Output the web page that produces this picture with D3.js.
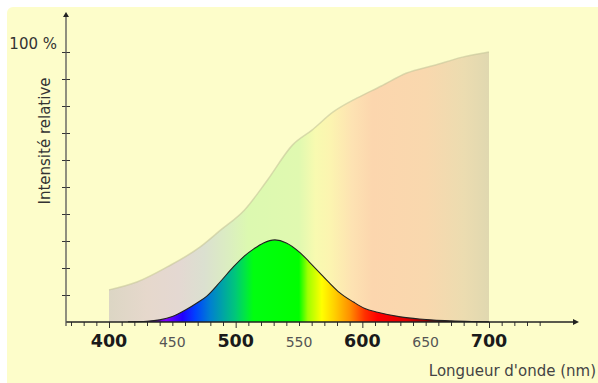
<!DOCTYPE html>
<html>
<head>
<meta charset="utf-8">
<script src="https://cdn.jsdelivr.net/npm/d3@7"></script>
<style>
  body { margin: 0; background: #fff; }
  text { font-family: "DejaVu Sans", sans-serif; }
</style>
</head>
<body>
<svg id="chart" width="598" height="383"></svg>
<script>
// envelope (pale) curve, wavelength nm -> relative %
const envWl  = [400, 422, 446, 472, 488, 507, 525, 545, 560, 577, 596, 615, 635, 657, 679, 700];
const envPct = [11.9, 14.8, 20.4, 27.8, 34, 41.5, 52.5, 65.6, 71, 77.8, 83, 87.4, 92.2, 95.1, 98.1, 100];

// coloured spectral curve
const specWl  = [415, 430, 440, 450, 461, 470, 477, 488, 498, 507, 514, 522, 531, 540, 551, 558, 566, 574, 582, 593, 602, 612, 630, 645, 656, 670, 690, 700];
const specPct = [0.1, 0.3, 0.8, 2.0, 4.6, 7.2, 9.5, 15, 20.3, 24.5, 27, 29.3, 30.4, 29.3, 25.6, 22.3, 18.4, 14.5, 10.9, 7.4, 5.0, 3.6, 1.9, 1.1, 0.7, 0.4, 0.15, 0.05];

const xTicks = d3.range(370, 741, 10);
const xLabels = { 400: "400", 450: "450", 500: "500", 550: "550", 600: "600", 650: "650", 700: "700" };
const yTicks = d3.range(10, 101, 10);
const yTopLabel = "100 %";
const yTitle = "Intensité relative";
const xTitle = "Longueur d'onde (nm)";

const svg = d3.select("#chart");
const x = d3.scaleLinear().domain([400, 700]).range([109, 489]);
const y = d3.scaleLinear().domain([0, 100]).range([322, 52]);

svg.append("rect").attr("x", 7).attr("y", 7).attr("width", 600).attr("height", 390)
  .attr("rx", 6).attr("fill", "#fdfdca");

const defs = svg.append("defs");
const specStops = [
  [400, "#200020"], [425, "#300040"], [436, "#6000c0"], [445, "#8000ff"], [458, "#2000ff"],
  [468, "#0040ff"], [480, "#0080d0"], [491, "#00a8a0"], [500, "#00c878"], [508, "#00e840"],
  [514, "#00ff10"], [550, "#00ff00"], [557, "#a0ff00"], [568, "#ffff00"], [578, "#ffd000"],
  [590, "#ff9000"], [602, "#ff3000"], [612, "#ff0000"], [635, "#e00000"], [650, "#900000"],
  [665, "#400000"], [680, "#100000"], [700, "#000000"]
];
const envStops = [
  [400, "#dcd6c4"], [430, "#e6d8cc"], [455, "#e4d8d2"], [475, "#dbe0d0"], [495, "#dbeec0"],
  [510, "#dcf9b0"], [550, "#e0f9b0"], [563, "#f8fab0"], [575, "#fcf4b0"], [592, "#fde2b2"],
  [608, "#fcd6ae"], [650, "#f9d8ae"], [680, "#ecdcb0"], [700, "#e0d8b0"]
];
function grad(id, stops) {
  const g = defs.append("linearGradient").attr("id", id)
    .attr("gradientUnits", "userSpaceOnUse")
    .attr("x1", x(400)).attr("x2", x(700)).attr("y1", 0).attr("y2", 0);
  stops.forEach(s => g.append("stop")
    .attr("offset", (s[0] - 400) / 300).attr("stop-color", s[1]));
}
grad("envGrad", envStops);
grad("specGrad", specStops);

// envelope
const envData = envWl.map((w, i) => [w, envPct[i]]);
svg.append("path").datum(envData)
  .attr("d", d3.area().x(d => x(d[0])).y0(y(0)).y1(d => y(d[1])).curve(d3.curveMonotoneX))
  .attr("fill", "url(#envGrad)");
svg.append("path").datum(envData)
  .attr("d", d3.line().x(d => x(d[0])).y(d => y(d[1])).curve(d3.curveMonotoneX))
  .attr("fill", "none").attr("stroke", "#c4c49a").attr("stroke-opacity", 0.6).attr("stroke-width", 1.5);

// spectral curve
const specData = specWl.map((w, i) => [w, specPct[i]]);
svg.append("path").datum(specData)
  .attr("d", d3.area().x(d => x(d[0])).y0(y(0)).y1(d => y(d[1])).curve(d3.curveMonotoneX))
  .attr("fill", "url(#specGrad)");
svg.append("path").datum(specData)
  .attr("d", d3.line().x(d => x(d[0])).y(d => y(d[1])).curve(d3.curveMonotoneX))
  .attr("fill", "none").attr("stroke", "#222").attr("stroke-width", 1.1);

// x axis
const xAxis = svg.append("g").attr("transform", `translate(0,${y(0)})`)
  .call(d3.axisBottom(x).tickValues(xTicks).tickSize(4).tickFormat(""));
xAxis.select(".domain").remove();
xAxis.selectAll(".tick line").attr("stroke", "#333")
  .attr("y2", d => d % 100 === 0 ? 6 : 4);
svg.append("line").attr("x1", 66).attr("x2", 575).attr("y1", y(0)).attr("y2", y(0))
  .attr("stroke", "#222").attr("stroke-width", 1.3);
svg.append("path").attr("d", `M579,${y(0)} l-6,-3 l0,6 z`).attr("fill", "#222");

Object.keys(xLabels).forEach(k => {
  const v = +k, major = v % 100 === 0;
  svg.append("text").attr("x", x(v)).attr("y", 347).attr("text-anchor", "middle")
    .attr("font-size", major ? 17.5 : 14).attr("font-weight", major ? "bold" : "normal")
    .attr("fill", major ? "#1a1a1a" : "#555").text(xLabels[k]);
});

// y axis
const yAxis = svg.append("g").attr("transform", "translate(66,0)")
  .call(d3.axisLeft(y).tickValues(yTicks).tickSize(4).tickFormat(""));
yAxis.select(".domain").remove();
yAxis.selectAll(".tick line").attr("stroke", "#333").attr("x2", 4).attr("x1", -4);
svg.append("line").attr("x1", 66).attr("x2", 66).attr("y1", y(0) + 4).attr("y2", 16)
  .attr("stroke", "#555").attr("stroke-width", 1.3);
svg.append("path").attr("d", "M66,12 l-3,5 l6,0 z").attr("fill", "#222");

svg.append("text").attr("x", 57).attr("y", y(100) - 3).attr("text-anchor", "end")
  .attr("font-size", 15).attr("fill", "#333").text(yTopLabel);
svg.append("text").attr("transform", "translate(50,141) rotate(-90)")
  .attr("text-anchor", "middle").attr("font-size", 15).attr("fill", "#333").text(yTitle);
svg.append("text").attr("x", 596).attr("y", 376).attr("text-anchor", "end")
  .attr("font-size", 15).attr("fill", "#444").text(xTitle);
</script>
</body>
</html>
